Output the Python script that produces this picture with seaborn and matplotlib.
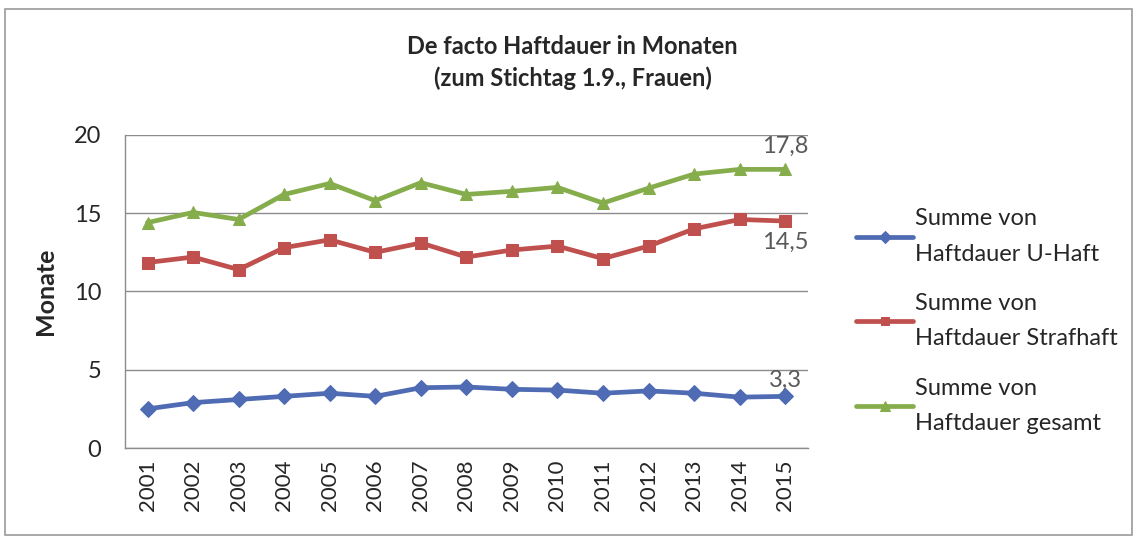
import numpy as np
import pandas as pd
import matplotlib
matplotlib.use("Agg")
import matplotlib.pyplot as plt
import seaborn as sns
from matplotlib.patches import Rectangle
from matplotlib.ticker import FixedLocator

years = list(range(2001, 2016))
u_haft = [2.5, 2.9, 3.1, 3.3, 3.5, 3.3, 3.85, 3.9, 3.75, 3.7, 3.5, 3.65, 3.5, 3.25, 3.3]
strafhaft = [11.85, 12.2, 11.4, 12.8, 13.3, 12.5, 13.1, 12.2, 12.65, 12.9, 12.1, 12.9, 14.0, 14.6, 14.5]
gesamt = [14.4, 15.05, 14.6, 16.2, 16.9, 15.8, 16.95, 16.2, 16.4, 16.65, 15.65, 16.6, 17.5, 17.8, 17.8]
labels = ["Summe von\nHaftdauer U-Haft", "Summe von\nHaftdauer Strafhaft", "Summe von\nHaftdauer gesamt"]
colors = ["#4f6bb3", "#c0504d", "#86ad4c"]
markers = ["D", "s", "^"]
end_labels = ["3,3", "14,5", "17,8"]

sns.set_theme(style="white")
plt.rcParams['font.family'] = ['Lato', 'DejaVu Sans']

fig = plt.figure(figsize=(11.34, 5.37), dpi=100)
ax = fig.add_axes([0.110, 0.1657, 0.6025, 0.583])

series = [u_haft, strafhaft, gesamt]
for vals, lab, col, mk in zip(series, labels, colors, markers):
    df = pd.DataFrame({"Jahr": years, "Wert": vals})
    sns.lineplot(data=df, x="Jahr", y="Wert", ax=ax, color=col, marker=mk,
                 markersize=8 if mk != "^" else 9, markeredgecolor=col,
                 linewidth=3.4, label=lab)

ax.set_xlim(2000.5, 2015.5)
ax.set_ylim(0, 20)
ax.set_yticks([0, 5, 10, 15, 20])
ax.yaxis.grid(True, color="#8c8c8c", linewidth=1.0)
ax.set_axisbelow(True)
ax.set_xticks(years)
ax.set_xticklabels([str(y) for y in years], rotation=90, fontsize=16)
ax.xaxis.set_minor_locator(FixedLocator(np.arange(2000.5, 2016, 1)))
ax.tick_params(axis="x", which="major", length=0, pad=8)
ax.tick_params(axis="x", which="minor", length=6, width=1, color="#8c8c8c", direction="out")
ax.tick_params(axis="y", length=7, width=1, color="#8c8c8c", direction="out", labelsize=17, pad=10)
for s in ["top", "right"]:
    ax.spines[s].set_visible(False)
for s in ["left", "bottom"]:
    ax.spines[s].set_color("#8c8c8c")
    ax.spines[s].set_linewidth(1.0)
ax.set_xlabel("")
ax.set_ylabel("Monate", fontsize=18, fontweight="bold", labelpad=12)

# end-point data labels
lab_col = "#595959"
ax.annotate(end_labels[2], (years[-1], gesamt[-1]), xytext=(0, 9), textcoords="offset points",
            ha="center", va="bottom", fontsize=17, color=lab_col)
ax.annotate(end_labels[1], (years[-1], strafhaft[-1]), xytext=(0, -8), textcoords="offset points",
            ha="center", va="top", fontsize=17, color=lab_col)
ax.annotate(end_labels[0], (years[-1], u_haft[-1]), xytext=(0, 4), textcoords="offset points",
            ha="center", va="bottom", fontsize=17, color=lab_col)

fig.text(0.505, 0.914, "De facto Haftdauer in Monaten", ha="center", va="center",
         fontsize=17, fontweight="bold")
fig.text(0.505, 0.855, "(zum Stichtag 1.9., Frauen)", ha="center", va="center",
         fontsize=17, fontweight="bold")

leg = ax.legend(loc="center left", bbox_to_anchor=(0.755, 0.402), bbox_transform=fig.transFigure,
                frameon=False, fontsize=17, handlelength=2.4, handletextpad=0.1,
                labelspacing=1.2, borderpad=0, borderaxespad=0, markerscale=0.8)
for t in leg.get_texts():
    t.set_linespacing(1.85)

fig.patches.append(Rectangle((0.004, 0.003), 0.994, 0.98, transform=fig.transFigure,
                             fill=False, edgecolor="#9a9a9a", linewidth=1.2))

fig.savefig("out.png", dpi=100, facecolor="white")
